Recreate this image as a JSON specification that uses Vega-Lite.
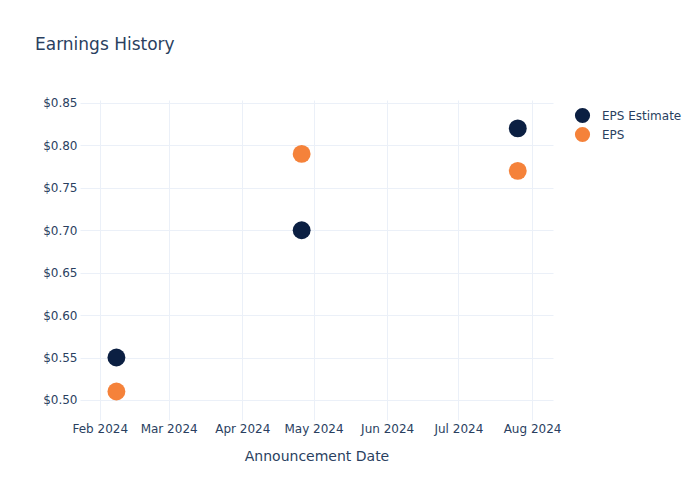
{
  "$schema": "https://vega.github.io/schema/vega-lite/v6.json",
  "autosize": {"type": "none"},
  "padding": {"left": 80, "top": 100, "right": 147, "bottom": 80},
  "width": 473,
  "height": 320,
  "background": "white",
  "title": {
    "text": "Earnings History",
    "anchor": "start",
    "frame": "group",
    "fontSize": 17,
    "font": "DejaVu Sans",
    "fontWeight": "normal",
    "color": "#2a3f5f",
    "offset": 0,
    "dx": -45,
    "dy": -43
  },
  "config": {
    "view": {"stroke": null},
    "font": "DejaVu Sans",
    "axis": {
      "labelFont": "DejaVu Sans",
      "labelFontSize": 12,
      "labelColor": "#2a3f5f",
      "titleFont": "DejaVu Sans",
      "titleColor": "#2a3f5f",
      "titleFontWeight": "normal",
      "gridColor": "#ebf0f8",
      "gridWidth": 1,
      "domain": false,
      "ticks": false
    }
  },
  "data": {
    "values": [
      {"date": "2024-02-08T00:00:00", "series": "EPS Estimate", "value": 0.55},
      {"date": "2024-02-08T00:00:00", "series": "EPS", "value": 0.51},
      {"date": "2024-04-26T00:00:00", "series": "EPS Estimate", "value": 0.70},
      {"date": "2024-04-26T00:00:00", "series": "EPS", "value": 0.79},
      {"date": "2024-07-26T00:00:00", "series": "EPS Estimate", "value": 0.82},
      {"date": "2024-07-26T00:00:00", "series": "EPS", "value": 0.77}
    ]
  },
  "mark": {"type": "circle", "size": 320, "opacity": 1},
  "encoding": {
    "x": {
      "field": "date",
      "type": "temporal",
      "title": "Announcement Date",
      "scale": {"domain": ["2024-01-23T16:00:00", "2024-08-09T20:00:00"], "nice": false},
      "axis": {
        "format": "%b %Y",
        "tickCount": {"interval": "month", "step": 1},
        "labelPadding": 3,
        "titleFontSize": 14,
        "titlePadding": 15,
        "labelFlush": false
      }
    },
    "y": {
      "field": "value",
      "type": "quantitative",
      "title": null,
      "scale": {"domain": [0.4764, 0.8535], "nice": false, "zero": false},
      "axis": {
        "format": "$.2f",
        "values": [0.5, 0.55, 0.6, 0.65, 0.7, 0.75, 0.8, 0.85],
        "labelPadding": 3
      }
    },
    "color": {
      "field": "series",
      "type": "nominal",
      "scale": {"domain": ["EPS Estimate", "EPS"], "range": ["#0b1f42", "#f5823a"]},
      "legend": {
        "title": null,
        "orient": "none",
        "legendX": 494,
        "legendY": 7,
        "symbolType": "circle",
        "symbolSize": 230,
        "symbolOpacity": 1,
        "labelFontSize": 12,
        "labelColor": "#2a3f5f",
        "labelFont": "DejaVu Sans",
        "rowPadding": 2,
        "labelOffset": 11
      }
    }
  }
}
